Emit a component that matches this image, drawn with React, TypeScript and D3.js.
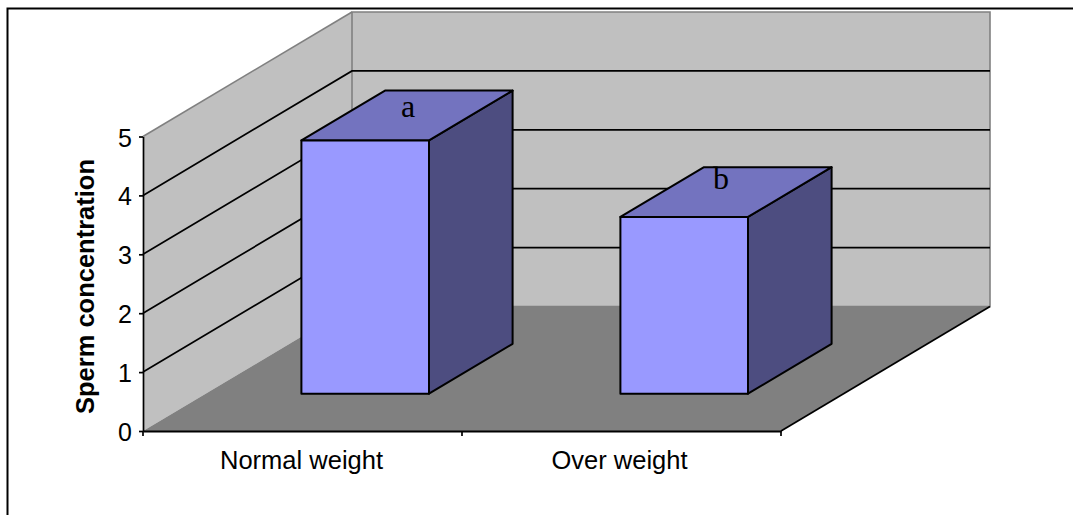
import { useEffect, useRef } from 'react'
import * as d3 from 'd3'

const CATEGORIES = ['Normal weight', 'Over weight']
const VALUES = [4.3, 3.0]
const LETTERS = ['a', 'b']
const Y_TICKS = [0, 1, 2, 3, 4, 5]

const SANS = '"Liberation Sans", Arial, sans-serif'
const SERIF = '"Liberation Serif", "Times New Roman", serif'

export default function App() {
  const ref = useRef<SVGSVGElement>(null)

  useEffect(() => {
    document.body.style.margin = '0'
    const svg = d3.select(ref.current)
    svg.selectAll('*').remove()

    const x = d3.scaleBand().domain(CATEGORIES).range([143, 781])
    const y = d3.scaleLinear().domain([0, 5]).range([431, 136.5])
    // how far a point has moved back into the chart, 0 = front, 1 = back wall
    const depthX = d3.scaleLinear().domain([0, 1]).range([0, 209])
    const depthY = d3.scaleLinear().domain([0, 1]).range([0, -124.5])

    const pt = (px: number, value: number, depth: number): [number, number] => [
      px + depthX(depth),
      y(value) + depthY(depth),
    ]
    const closed = d3.line().curve(d3.curveLinearClosed)
    const open = d3.line()

    // frame runs off the right and bottom of the picture
    svg.append('path')
      .attr('d', open([[7.5, 516], [7.5, 8.5], [1075, 8.5]]))
      .attr('fill', 'none')
      .attr('stroke', '#000')
      .attr('stroke-width', 2)

    const [x0, x1] = x.range()

    // walls
    svg.append('path')
      .attr('d', closed([pt(x0, 0, 0), pt(x0, 5, 0), pt(x0, 5, 1), pt(x0, 0, 1)]))
      .attr('fill', '#c0c0c0')
    svg.append('path')
      .attr('d', closed([pt(x0, 0, 1), pt(x0, 5, 1), pt(x1, 5, 1), pt(x1, 0, 1)]))
      .attr('fill', '#c0c0c0')
      .attr('stroke', '#808080')
      .attr('stroke-width', 1.6)
    svg.append('path')
      .attr('d', open([pt(x0, 5, 0), pt(x0, 5, 1)]))
      .attr('fill', 'none')
      .attr('stroke', '#808080')
      .attr('stroke-width', 1.6)

    // floor
    svg.append('path')
      .attr('d', closed([pt(x0, 0, 0), pt(x1, 0, 0), pt(x1, 0, 1), pt(x0, 0, 1)]))
      .attr('fill', '#808080')
    svg.append('path')
      .attr('d', open([pt(x1, 0, 0), pt(x1, 0, 1)]))
      .attr('fill', 'none')
      .attr('stroke', '#000')
      .attr('stroke-width', 1.7)

    // gridlines
    svg.append('g')
      .selectAll('path')
      .data(Y_TICKS.filter(t => t > 0 && t < 5))
      .join('path')
      .attr('d', t => open([pt(x0, t, 0), pt(x0, t, 1), pt(x1, t, 1)]))
      .attr('fill', 'none')
      .attr('stroke', '#000')
      .attr('stroke-width', 1.7)

    // bars
    const barW = x.bandwidth() * 0.4
    const front = 0.3
    const back = 0.7
    const bars = svg.append('g')
      .attr('stroke', '#000')
      .attr('stroke-width', 2)
      .attr('stroke-linejoin', 'round')

    CATEGORIES.forEach((c, i) => {
      const v = VALUES[i]
      const centre = x(c)! + x.bandwidth() / 2
      const l = centre - barW / 2
      const r = centre + barW / 2
      bars.append('path')
        .attr('d', closed([pt(r, 0, front), pt(r, v, front), pt(r, v, back), pt(r, 0, back)]))
        .attr('fill', '#4d4d80')
      bars.append('path')
        .attr('d', closed([pt(l, v, front), pt(r, v, front), pt(r, v, back), pt(l, v, back)]))
        .attr('fill', '#7373bf')
      bars.append('path')
        .attr('d', closed([pt(l, 0, front), pt(r, 0, front), pt(r, v, front), pt(l, v, front)]))
        .attr('fill', '#9999ff')
    })

    // letters on top of the bars
    svg.append('g')
      .selectAll('text')
      .data(LETTERS)
      .join('text')
      .attr('x', (_, i) => [408, 721][i])
      .attr('y', (_, i) => y(VALUES[i]) - (i === 0 ? 61 : 65))
      .attr('text-anchor', 'middle')
      .attr('font-family', SERIF)
      .attr('font-size', 32)
      .attr('fill', '#000')
      .text(d => d)

    // axes
    const yAxis = svg.append('g')
      .attr('transform', `translate(${x0},0)`)
      .call(d3.axisLeft(y).tickValues(Y_TICKS).tickSize(4).tickSizeOuter(0).tickPadding(7).tickFormat(d3.format('d')))
    yAxis.select('.domain').attr('stroke-width', 1.7)
    yAxis.selectAll('line').attr('stroke-width', 1.7)
    yAxis.selectAll('text')
      .attr('font-family', SANS)
      .attr('font-size', 25)
      .attr('fill', '#000')
      .attr('dy', '0.38em')

    const xAxis = svg.append('g')
      .attr('transform', `translate(0,${y(0)})`)
      .call(d3.axisBottom(x).tickSize(0).tickPadding(20))
    xAxis.select('.domain').attr('stroke-width', 2)
    xAxis.selectAll('text')
      .attr('font-family', SANS)
      .attr('font-size', 25.5)
      .attr('fill', '#000')
      .attr('dx', (_, i) => [-1, -2][i])
    xAxis.selectAll('line.edge')
      .data([x0, x(CATEGORIES[1])!, x1])
      .join('line')
      .attr('class', 'edge')
      .attr('x1', d => d)
      .attr('x2', d => d)
      .attr('y1', 0)
      .attr('y2', 5)
      .attr('stroke', '#000')
      .attr('stroke-width', 1.7)

    svg.append('text')
      .attr('transform', 'translate(94,286.5) rotate(-90)')
      .attr('text-anchor', 'middle')
      .attr('font-family', SANS)
      .attr('font-size', 25.5)
      .attr('font-weight', 'bold')
      .attr('fill', '#000')
      .text('Sperm concentration')
  }, [])

  return <svg ref={ref} width={1073} height={515} style={{ display: 'block', background: '#fff' }} />
}
